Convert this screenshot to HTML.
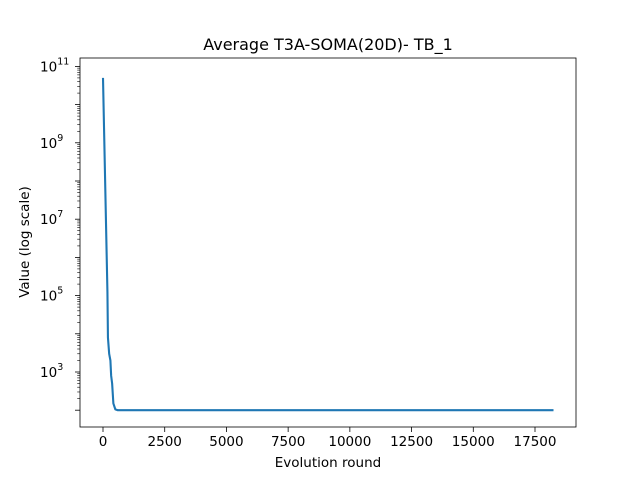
<!DOCTYPE html>
<html><head><meta charset="utf-8"><style>
body{margin:0;background:#fff;}
svg text{font-family:"DejaVu Sans","Liberation Sans",sans-serif;fill:#000;}
</style></head><body>
<svg id="chart" width="640" height="480">
<rect width="640" height="480" fill="#fff"/>
<text x="328" y="50" font-size="16" text-anchor="middle">Average T3A-SOMA(20D)- TB_1</text>
<g id="ticks"></g>
<path id="line" fill="none" stroke="#1f77b4" stroke-width="2.1" stroke-linejoin="round"/>
<rect x="80" y="58" width="496" height="369" fill="none" stroke="#000" stroke-width="0.8"/>
<text x="328" y="467" font-size="13.5" text-anchor="middle">Evolution round</text>
<text transform="translate(29,242) rotate(-90)" font-size="13.5" text-anchor="middle">Value (log scale)</text>
</svg>
<script>
const rounds=[0,180,200,250,300,330,370,420,500,600,18250];
const values=[5e10,1.2e5,8000,3000,2000,800,500,150,105,100,100];
const xTicks=[0,2500,5000,7500,10000,12500,15000,17500];
const yTickExps=[3,5,7,9,11];
const NS="http://www.w3.org/2000/svg";
function xs(v){return 103+v*(432/17500);}
function ys(v){return 372-(Math.log10(v)-3)*38.2;}
const g=document.getElementById('ticks');
function mk(t,a){const e=document.createElementNS(NS,t);for(const k in a)e.setAttribute(k,a[k]);return e;}
xTicks.forEach(t=>{
 const x=xs(t);
 const l=mk('line',{x1:x,x2:x,y1:427,y2:432,stroke:'#000','stroke-width':0.8});
 
 
 g.appendChild(l);
 const tx=mk('text',{x:x,y:446,'font-size':13.5,'text-anchor':'middle'});
 tx.textContent=t;
 
 
 g.appendChild(tx);
});
for(let e=2;e<=11;e++){for(let m=2;m<=9;m++){const y=ys(m*Math.pow(10,e));if(y<58||y>427)continue;
 const l=mk('line',{x1:77.2,x2:80,y1:y,y2:y,stroke:'#000','stroke-width':0.6});
 
 
 g.appendChild(l);}}
[1,2,3,4,5,6,7,8,9,10,11].forEach(e=>{const y=ys(Math.pow(10,e));if(y<58||y>427)return;
 const l=mk('line',{x1:75,x2:80,y1:y,y2:y,stroke:'#000','stroke-width':0.8});
 
 
 g.appendChild(l);});
yTickExps.forEach(e=>{const y=ys(Math.pow(10,e));
 const tx=mk('text',{x:40,y:y+5,'font-size':13.5});
 tx.textContent='10';
 const s=mk('tspan',{dy:-7,'font-size':9.5});s.textContent=e;tx.appendChild(s);
 
 
 g.appendChild(tx);});
document.getElementById('line').setAttribute('d',rounds.map((r,i)=>(i?'L':'M')+xs(r).toFixed(2)+','+ys(values[i]).toFixed(2)).join(''));
</script>
</body></html>
